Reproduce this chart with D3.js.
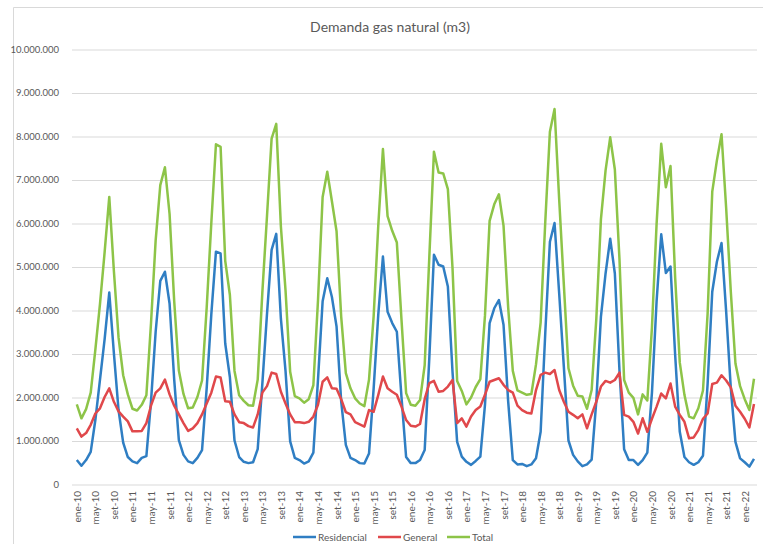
<!DOCTYPE html>
<html>
<head>
<meta charset="utf-8">
<script src="https://cdn.jsdelivr.net/npm/d3@7/dist/d3.min.js"></script>
<style>
  body { margin: 0; background: #fff; }
  text { font-family: Lato, "Open Sans", sans-serif; fill: #595959; }
</style>
</head>
<body>
<div id="chart"></div>
<script>
"use strict";

// meses y años del eje de categorias (ene-10 ... mar-22)
const meses = ["ene", "feb", "mar", "abr", "may", "jun", "jul", "ago", "set", "oct", "nov", "dic"];
const anios = ["10", "11", "12", "13", "14", "15", "16", "17", "18", "19", "20", "21", "22"];

// valores en millones de m3
const residencial = [
  0.55, 0.42, 0.55, 0.74, 1.47, 2.40, 3.33, 4.40, 3.00, 1.70, 0.95, 0.62,
  0.52, 0.48, 0.60, 0.64, 1.90, 3.50, 4.67, 4.88, 4.15, 2.40, 1.01, 0.67,
  0.52, 0.48, 0.60, 0.78, 2.20, 3.90, 5.34, 5.30, 3.23, 2.46, 1.00, 0.62,
  0.51, 0.48, 0.50, 0.80, 2.30, 3.90, 5.38, 5.75, 3.80, 2.60, 0.98, 0.60,
  0.55, 0.47, 0.52, 0.72, 2.40, 4.20, 4.73, 4.30, 3.62, 1.90, 0.90, 0.60,
  0.55, 0.48, 0.47, 0.70, 2.20, 3.90, 5.23, 3.96, 3.70, 3.50, 2.00, 0.62,
  0.48, 0.48, 0.55, 0.78, 2.90, 5.27, 5.04, 5.00, 4.54, 2.58, 0.97, 0.63,
  0.51, 0.44, 0.53, 0.63, 1.82, 3.70, 4.04, 4.23, 3.66, 1.90, 0.55, 0.45,
  0.46, 0.41, 0.45, 0.59, 1.20, 3.47, 5.57, 6.00, 4.38, 2.70, 1.00, 0.67,
  0.52, 0.41, 0.45, 0.56, 1.90, 3.85, 4.84, 5.64, 4.84, 2.60, 0.80, 0.55,
  0.55, 0.44, 0.55, 0.72, 2.10, 4.20, 5.74, 4.85, 5.00, 2.97, 1.20, 0.62,
  0.50, 0.44, 0.50, 0.65, 2.30, 4.42, 5.11, 5.54, 3.96, 2.20, 0.97, 0.59,
  0.50, 0.40, 0.58
];

const general = [
  1.28, 1.09, 1.17, 1.36, 1.62, 1.74, 2.00, 2.20, 1.89, 1.67, 1.55, 1.44,
  1.21, 1.21, 1.22, 1.40, 1.80, 2.10, 2.20, 2.40, 2.06, 1.80, 1.60, 1.40,
  1.22, 1.28, 1.40, 1.60, 1.85, 2.10, 2.47, 2.45, 1.90, 1.89, 1.60, 1.42,
  1.40, 1.33, 1.30, 1.60, 2.10, 2.25, 2.56, 2.53, 2.12, 1.85, 1.60, 1.42,
  1.42, 1.40, 1.43, 1.55, 1.82, 2.35, 2.45, 2.20, 2.19, 1.95, 1.65, 1.60,
  1.42, 1.37, 1.32, 1.70, 1.66, 2.05, 2.47, 2.20, 2.12, 2.05, 1.78, 1.47,
  1.34, 1.32, 1.38, 1.95, 2.32, 2.37, 2.12, 2.14, 2.24, 2.39, 1.40, 1.51,
  1.32, 1.55, 1.70, 1.78, 2.05, 2.35, 2.39, 2.43, 2.28, 2.16, 2.10, 1.80,
  1.70, 1.64, 1.62, 2.16, 2.51, 2.56, 2.53, 2.62, 2.16, 1.89, 1.66, 1.59,
  1.51, 1.60, 1.28, 1.60, 1.89, 2.24, 2.37, 2.33, 2.39, 2.56, 1.59, 1.55,
  1.43, 1.16, 1.51, 1.20, 1.50, 1.78, 2.08, 1.97, 2.31, 1.78, 1.59, 1.43,
  1.05, 1.07, 1.24, 1.50, 1.62, 2.30, 2.33, 2.50, 2.38, 2.22, 1.80, 1.66,
  1.50, 1.30, 1.84
];

const total = [
  1.83, 1.51, 1.72, 2.10, 3.09, 4.14, 5.33, 6.60, 4.89, 3.37, 2.50, 2.06,
  1.73, 1.69, 1.82, 2.04, 3.70, 5.60, 6.87, 7.28, 6.21, 4.20, 2.61, 2.07,
  1.74, 1.76, 2.00, 2.38, 4.05, 6.00, 7.81, 7.75, 5.13, 4.35, 2.60, 2.04,
  1.91, 1.81, 1.80, 2.40, 4.40, 6.15, 7.94, 8.28, 5.92, 4.45, 2.58, 2.02,
  1.97, 1.87, 1.95, 2.27, 4.22, 6.60, 7.18, 6.50, 5.81, 3.85, 2.55, 2.20,
  1.97, 1.85, 1.79, 2.40, 3.86, 5.95, 7.70, 6.16, 5.82, 5.55, 3.78, 2.09,
  1.82, 1.80, 1.93, 2.73, 5.22, 7.64, 7.16, 7.14, 6.78, 4.97, 2.37, 2.14,
  1.83, 1.99, 2.23, 2.41, 3.87, 6.05, 6.43, 6.66, 5.94, 4.06, 2.60, 2.15,
  2.10, 2.05, 2.07, 2.75, 3.71, 6.03, 8.10, 8.62, 6.54, 4.59, 2.66, 2.26,
  2.03, 2.01, 1.73, 2.16, 3.79, 6.09, 7.21, 7.97, 7.23, 5.16, 2.39, 2.10,
  1.98, 1.60, 2.06, 1.92, 3.60, 5.98, 7.82, 6.82, 7.31, 4.75, 2.79, 2.05,
  1.55, 1.51, 1.74, 2.15, 3.92, 6.72, 7.44, 8.04, 6.34, 4.42, 2.77, 2.25,
  1.95, 1.70, 2.42
];

const yTicks = [0, 1, 2, 3, 4, 5, 6, 7, 8, 9, 10];

// categorias ene-10 ... mar-22
let categorias = [];
anios.forEach(a => meses.forEach(m => categorias.push(m + "-" + a)));
categorias = categorias.slice(0, residencial.length);

const series = [
  { name: "Residencial", values: residencial, color: "#2f7ec3" },
  { name: "General", values: general, color: "#e0484b" },
  { name: "Total", values: total, color: "#8dc448" }
];

const width = 763, height = 544;
const plotLeft = 72, plotRight = 757, plotTop = 49, plotBottom = 484;

const svg = d3.select("#chart").append("svg")
    .attr("width", width)
    .attr("height", height);

// marco del area del grafico (recortado a la derecha y abajo)
svg.append("path")
    .attr("d", "M13.5," + height + "V7.5H" + width)
    .attr("fill", "none")
    .attr("stroke", "#d9d9d9");

svg.append("text")
    .attr("x", 390)
    .attr("y", 32)
    .attr("text-anchor", "middle")
    .style("font-size", "14px")
    .text("Demanda gas natural (m3)");

var x = d3.scalePoint()
    .domain(categorias)
    .range([76.8, 754]);

var y = d3.scaleLinear()
    .domain([0, 10])
    .range([plotBottom, plotTop]);

var loc = d3.formatLocale({ decimal: ",", thousands: ".", grouping: [3], currency: ["$", ""] });
var fmt = loc.format(",d");

// eje y con lineas de division
var yAxis = svg.append("g")
    .attr("transform", "translate(" + plotLeft + ",0)")
    .call(d3.axisLeft(y)
      .tickValues(yTicks)
      .tickSize(-(plotRight - plotLeft))
      .tickPadding(13)
      .tickFormat(d => fmt(d * 1e6)));

yAxis.select(".domain").remove();
yAxis.selectAll(".tick line")
    .attr("stroke", "#d9d9d9")
    .attr("transform", "translate(0,0.5)");
yAxis.selectAll(".tick text")
    .style("font-size", "9.5px")
    .style("font-family", "Lato, 'Open Sans', sans-serif")
    .attr("fill", "#595959");

// eje x: etiquetas cada 4 meses, rotadas
var xAxis = svg.append("g")
    .attr("transform", "translate(0," + plotBottom + ")")
    .call(d3.axisBottom(x)
      .tickValues(categorias.filter((c, i) => i % 4 === 0))
      .tickSize(0)
      .tickPadding(0));

xAxis.select(".domain").remove();
xAxis.selectAll(".tick text")
    .attr("transform", "rotate(-90)")
    .attr("x", -7)
    .attr("y", 0)
    .attr("dy", "0.35em")
    .attr("text-anchor", "end")
    .style("font-size", "10px")
    .style("font-family", "Lato, 'Open Sans', sans-serif")
    .attr("fill", "#595959");

var line = d3.line()
    .x((d, i) => x(categorias[i]))
    .y(d => y(d));

svg.append("g").selectAll("path")
    .data(series)
  .enter().append("path")
    .attr("d", d => line(d.values))
    .attr("fill", "none")
    .attr("stroke", d => d.color)
    .attr("stroke-width", 2.5)
    .attr("stroke-linejoin", "round");

// leyenda
var legendX = [293, 378, 447];
var legend = svg.append("g").selectAll("g")
    .data(series)
  .enter().append("g")
    .attr("transform", (d, i) => "translate(" + legendX[i] + ",537)");

legend.append("line")
    .attr("x1", 0).attr("x2", 23)
    .attr("stroke", d => d.color)
    .attr("stroke-width", 2.5);

legend.append("text")
    .attr("x", 25)
    .attr("dy", "0.35em")
    .style("font-size", "10px")
    .text(d => d.name);
</script>
</body>
</html>
